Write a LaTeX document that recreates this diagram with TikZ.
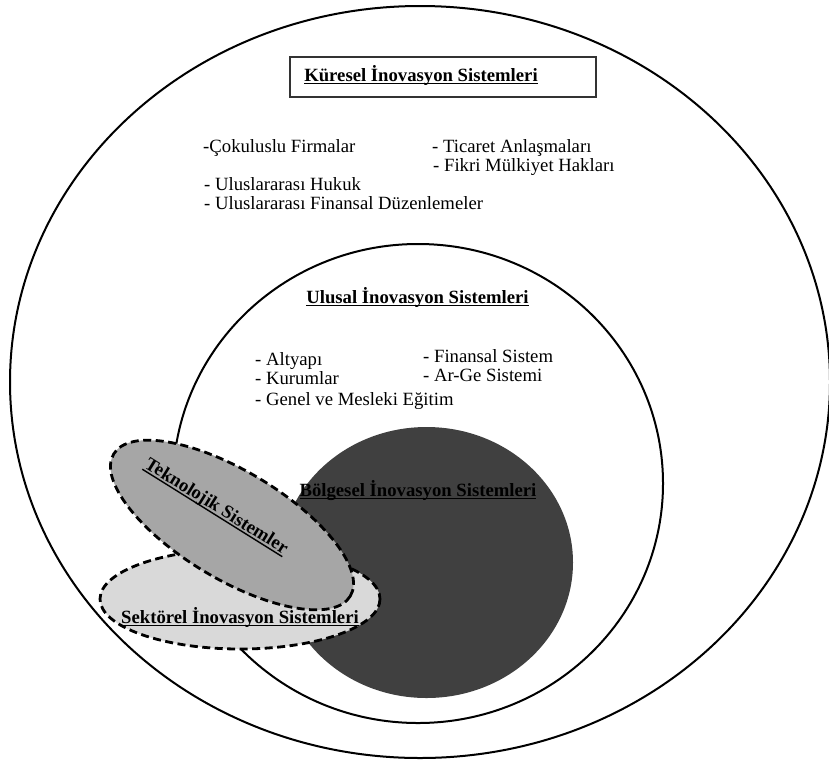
\documentclass[tikz,border=0pt]{standalone}
\usepackage{fontspec}
\setmainfont{Liberation Serif}
% underline drawn as a rule under the box, a little below the baseline
\newcommand\myul[1]{\setbox0\hbox{#1}\rlap{\rule[-3.2pt]{\wd0}{1.4pt}}\box0}
\definecolor{regionfill}{HTML}{404040}
\definecolor{techfill}{HTML}{A6A6A6}
\definecolor{sectorfill}{HTML}{D9D9D9}
\definecolor{boxline}{HTML}{333333}
\begin{document}
\begin{tikzpicture}[x=1pt,y=-1pt,
  every node/.style={inner sep=0pt, font=\fontsize{18.7}{20}\selectfont},
  ring/.style={line width=2pt},
  dashring/.style={line width=2.8pt, dash pattern=on 8pt off 4.5pt},
  heading/.style={anchor=base, font=\fontsize{18.7}{20}\selectfont\bfseries},
  item/.style={anchor=base west}]
\useasboundingbox (0,0) rectangle (829,761);

% global system
\draw[ring] (420,382) ellipse [x radius=410, y radius=376];
\draw[line width=1.5pt, draw=boxline] (290,57) rectangle (596,97);
\node[heading] (global) at (421,81) {\myul{Küresel İnovasyon Sistemleri}};
\node[item] (g1) at (203,152) {-Çokuluslu Firmalar};
\node[item] (g2) at (432,152) {- Ticaret Anlaşmaları};
\node[item] (g3) at (433,171) {- Fikri Mülkiyet Hakları};
\node[item] (g4) at (204,190) {- Uluslararası Hukuk};
\node[item] (g5) at (204,209) {- Uluslararası Finansal Düzenlemeler};

% national system
\draw[ring] (418,483.5) ellipse [x radius=245, y radius=239.5];
\node[heading] (national) at (417.5,303) {\myul{Ulusal İnovasyon Sistemleri}};
\node[item] (n1) at (255,365) {- Altyapı};
\node[item] (n2) at (255,384) {- Kurumlar};
\node[item] (n3) at (255,405) {- Genel ve Mesleki Eğitim};
\node[item] (n4) at (423,362) {- Finansal Sistem};
\node[item] (n5) at (423,381) {- Ar-Ge Sistemi};

% regional system
\fill[regionfill] (426.5,562.5) ellipse [x radius=146.5, y radius=135.5];
\node[heading] (regional) at (418,496) {\myul{Bölgesel İnovasyon Sistemleri}};

% sectoral system
\draw[dashring, fill=sectorfill] (240,599) ellipse [x radius=140, y radius=50];
\node[heading] (sectoral) at (240,623) {\myul{Sektörel İnovasyon Sistemleri}};

% technological systems
\draw[dashring, fill=techfill, rotate around={-31:(232,525)}] (232,525) ellipse [x radius=138, y radius=54];
\node[heading, anchor=center, rotate=-32] (tech) at (216,507) {\myul{Teknolojik Sistemler}};
\end{tikzpicture}
\end{document}
